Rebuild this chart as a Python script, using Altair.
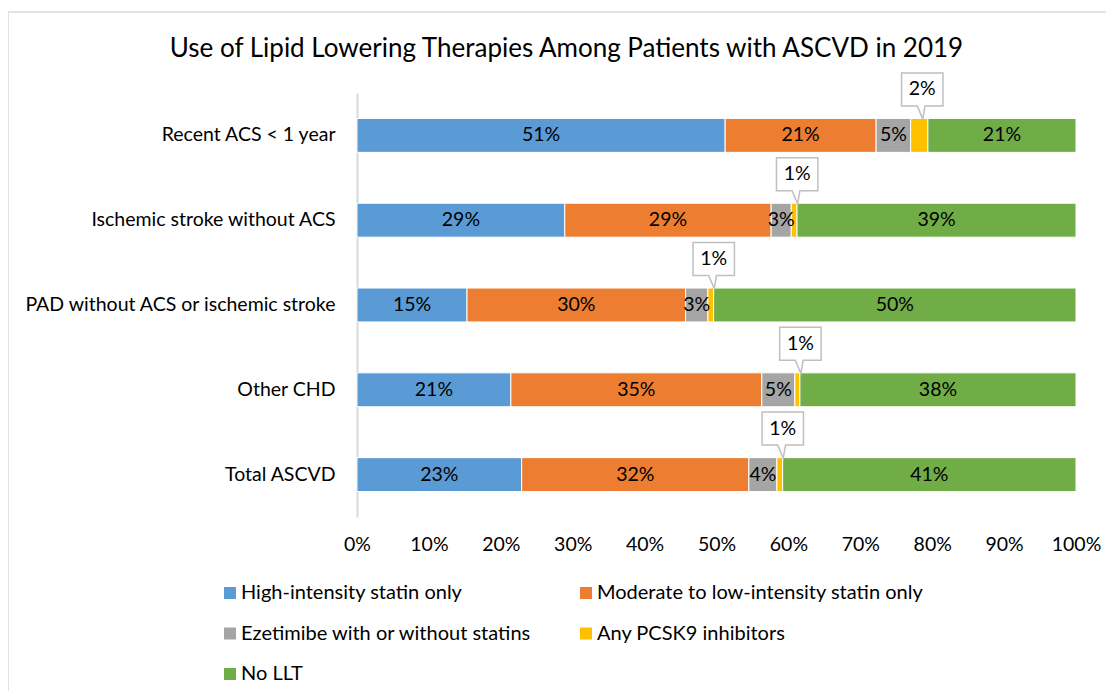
import altair as alt
import pandas as pd

FONT = "Lato"
FS = 19.5

categories = [
    "Recent ACS < 1 year",
    "Ischemic stroke without ACS",
    "PAD without ACS or ischemic stroke",
    "Other CHD",
    "Total ASCVD",
]
series = [
    "High-intensity statin only",
    "Moderate to low-intensity statin only",
    "Ezetimibe with or without statins",
    "Any PCSK9 inhibitors",
    "No LLT",
]
colors = ["#5b9bd5", "#ed7d31", "#a5a5a5", "#ffc000", "#70ad47"]

high = [51.2, 28.9, 15.3, 21.4, 22.9]
moderate = [21.0, 28.7, 30.4, 34.9, 31.6]
ezetimibe = [4.8, 2.8, 3.1, 4.6, 3.9]
pcsk9 = [2.4, 0.8, 0.8, 0.7, 0.8]
no_llt = [20.6, 38.8, 50.4, 38.4, 40.8]

x_ticks = [0, 10, 20, 30, 40, 50, 60, 70, 80, 90, 100]

values_by_series = [high, moderate, ezetimibe, pcsk9, no_llt]
rows = []
for si, (s, vals) in enumerate(zip(series, values_by_series)):
    for c, v in zip(categories, vals):
        rows.append({"category": c, "series": s, "order": si, "value": v,
                     "label": f"{v:.0f}%"})
df = pd.DataFrame(rows)

ysc = alt.Scale(paddingInner=0.6, paddingOuter=0.3)

base = alt.Chart(df).transform_stack(
    stack="value", as_=["x0", "x1"], groupby=["category"],
    sort=[alt.SortField("order", order="ascending")]
).transform_calculate(mid="(datum.x0 + datum.x1) / 2")

bars = base.mark_bar(stroke="white", strokeWidth=1).encode(
    x=alt.X("x0:Q", scale=alt.Scale(domain=[0, 100], nice=False),
            axis=alt.Axis(title=None, values=x_ticks, labelExpr="datum.value + '%'",
                          domain=False, ticks=False, grid=False, labelPadding=18,
                          labelFlush=False, labelOverlap=False,
                          labelFontSize=FS, labelFont=FONT, labelColor="black")),
    x2="x1:Q",
    y=alt.Y("category:N", sort=categories, scale=ysc,
            axis=alt.Axis(title=None, ticks=False, labelPadding=22, labelFontSize=FS,
                          labelFont=FONT, labelColor="black", labelLimit=500,
                          domainColor="#d9d9d9", domainWidth=2)),
    color=alt.Color("series:N", scale=alt.Scale(domain=series, range=colors),
                    legend=alt.Legend(title=None, orient="none", legendX=-137, legendY=490,
                                      direction="horizontal",
                                      columns=2, columnPadding=44, rowPadding=20.5,
                                      symbolType="square", symbolSize=144,
                                      symbolStrokeWidth=0, labelFontSize=20,
                                      labelFont=FONT, labelColor="black",
                                      labelLimit=600, labelOffset=1)),
)

seg_text = base.transform_filter(alt.datum.series != "Any PCSK9 inhibitors").mark_text(
    fontSize=FS, font=FONT, color="black"
).encode(
    x="mid:Q",
    y=alt.Y("category:N", sort=categories, scale=ysc),
    text="label:N",
)

callout_path = ("M-0.9,-1 L0.9,-1 L0.9,0.435 L0.12,0.435 L0.02,1 "
                "L-0.22,0.435 L-0.9,0.435 Z")

callouts = base.transform_filter(alt.datum.series == "Any PCSK9 inhibitors").mark_point(
    shape=callout_path, size=2116, filled=True, fill="white", stroke="#bfbfbf",
    strokeWidth=1.5, opacity=1, yOffset=-39.5, xOffset=3
).encode(
    x="mid:Q",
    y=alt.Y("category:N", sort=categories, scale=ysc),
)

callout_text = base.transform_filter(alt.datum.series == "Any PCSK9 inhibitors").mark_text(
    fontSize=FS, font=FONT, color="black", yOffset=-46, xOffset=3
).encode(
    x="mid:Q",
    y=alt.Y("category:N", sort=categories, scale=ysc),
    text="label:N",
)

border = alt.Chart(pd.DataFrame({"a": [0]})).mark_rect(
    fill="white", fillOpacity=0, stroke="#d9d9d9", strokeWidth=1.5
).encode(x=alt.value(-349), x2=alt.value(770), y=alt.value(-81), y2=alt.value(640))

chart = alt.layer(border, bars, seg_text, callouts, callout_text).properties(
    width=719, height=424,
    autosize=alt.AutoSizeParams(type="none"),
    padding={"left": 349, "top": 85, "right": 30, "bottom": 174},
    title=alt.TitleParams(
        "Use of Lipid Lowering Therapies Among Patients with ASCVD in 2019",
        fontSize=26, font=FONT, fontWeight="normal", color="black",
        anchor="middle", dx=-150, offset=-51),
).configure_view(stroke=None)

chart.save("out.html", embed_options={"renderer": "svg", "actions": False})
